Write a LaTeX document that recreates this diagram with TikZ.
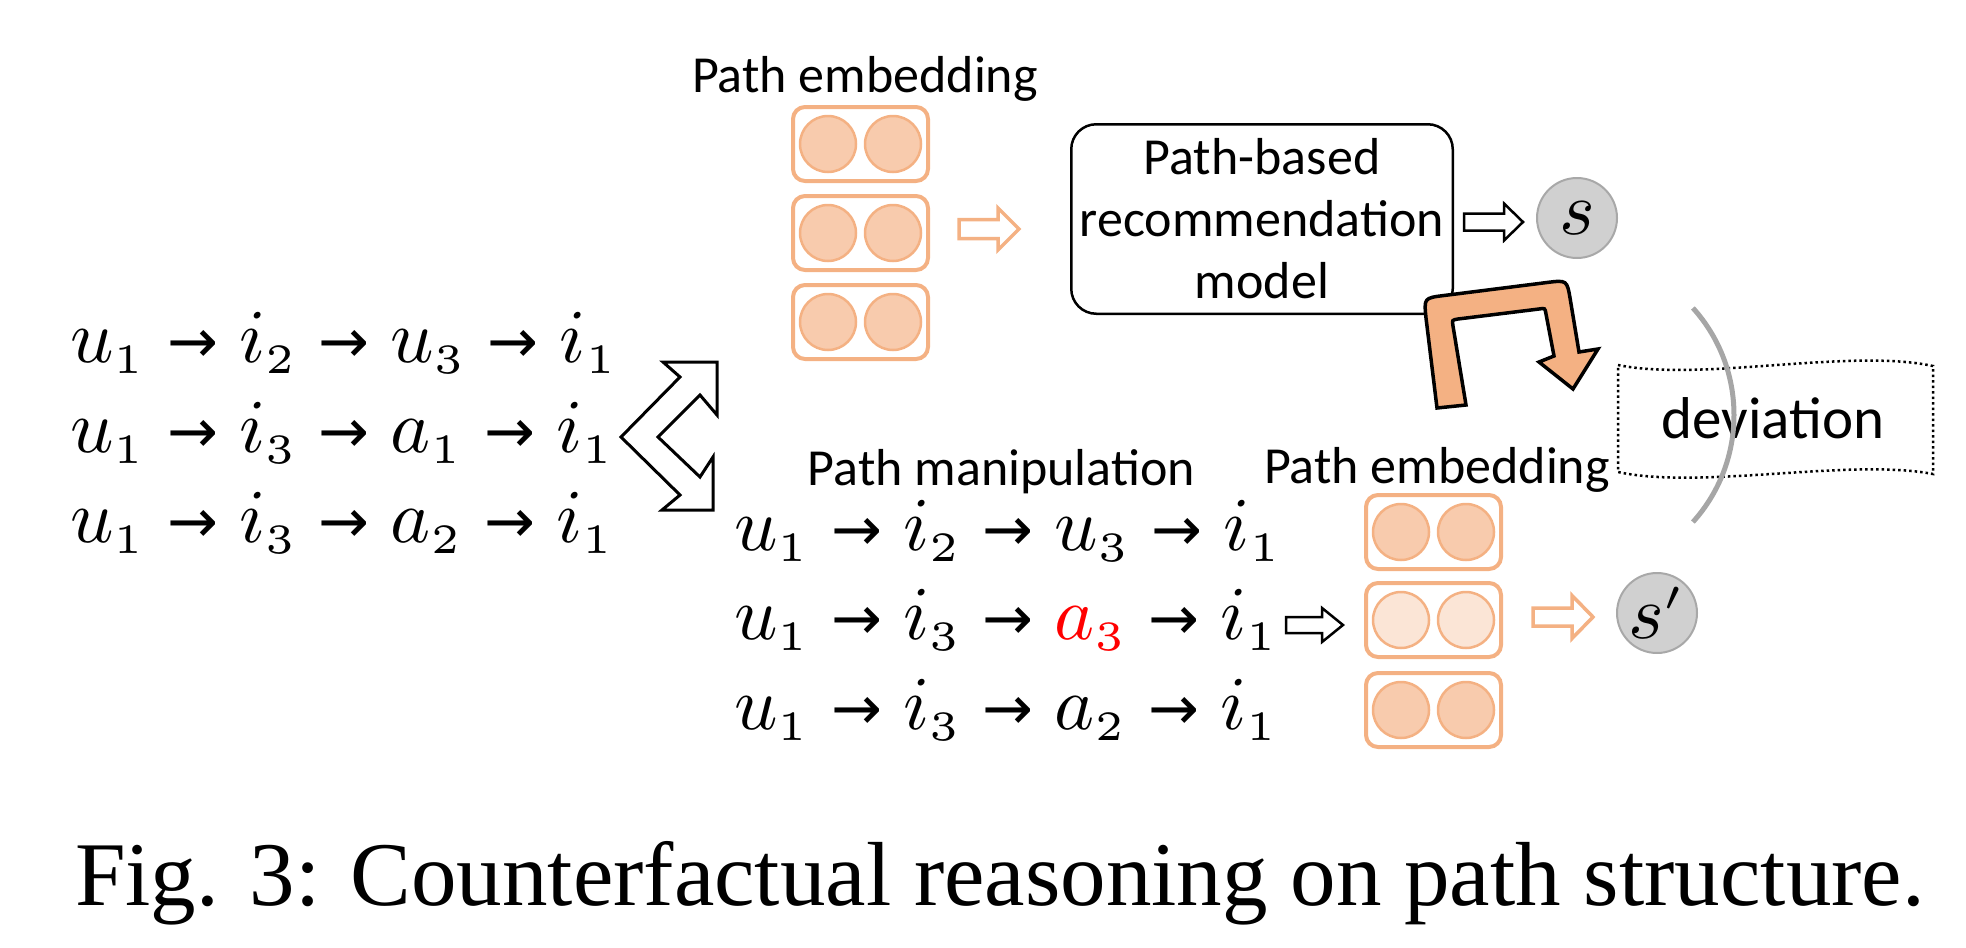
\RequirePackage{fix-cm}
\documentclass[tikz,border=0pt]{standalone}
\usepackage{fontspec}
\usepackage{graphicx}
\usetikzlibrary{calc}
\newfontfamily\calib{Carlito}
\newfontfamily\djv{DejaVu Sans}
\newfontfamily\capfont{Liberation Serif}
\DeclareMathSizes{10}{10}{5.5}{4.5}
\definecolor{orng}{HTML}{F4B183}
\definecolor{orngfill}{HTML}{F8CBAD}
\definecolor{ornglight}{HTML}{FBE5D6}
\definecolor{circgray}{HTML}{D0D0D0}
\definecolor{circedge}{HTML}{A8A8A8}
\definecolor{arcgray}{HTML}{A6A6A6}
\definecolor{uturnfill}{HTML}{F4B183}
\newcommand\ar{\mathrel{\hbox{\djv\fontsize{8}{9}\selectfont →}}}
\newcommand\mrow[1]{\scalebox{7.6}{$#1$}}
% block arrow: style, start coord, end coord, shaft half width, head half width, head length
\newcommand\barrow[6]{%
  \draw[#1] ($(#2)+(0,-#4)$) -- ($(#3)+(-#6,-#4)$) -- ($(#3)+(-#6,-#5)$) -- (#3)
    -- ($(#3)+(-#6,#5)$) -- ($(#3)+(-#6,#4)$) -- ($(#2)+(0,#4)$) -- cycle;}
\begin{document}
\begin{tikzpicture}[x=1pt,y=-1pt,
  lbl/.style={font=\calib\fontsize{52}{62}\selectfont, inner sep=0},
  ebox/.style={draw=orng, line width=4pt, rounded corners=12pt, minimum width=135pt, minimum height=74pt, inner sep=0},
  edot/.style={circle, draw=orng, fill=orngfill, line width=2.5pt, minimum size=56pt, inner sep=0},
  edotlight/.style={edot, fill=ornglight},
  model/.style={draw, line width=2.5pt, rounded corners=25pt, minimum width=381.5pt, minimum height=189.5pt, align=center, inner sep=0, font=\calib\fontsize{52}{62}\selectfont},
  score/.style={circle, fill=circgray, draw=circedge, line width=2pt, minimum size=80pt, inner sep=0},
  prow/.style={inner sep=0, anchor=base west},
  oarrow/.style={draw=orng, fill=white, line width=3.5pt, line join=miter},
  karrow/.style={draw=black, fill=white, line width=2.5pt, line join=miter},
  zig/.style={draw=black, fill=white, line width=3pt, line join=miter},
  uturn/.style={draw=black, fill=uturnfill, line width=3.5pt, line join=miter},
  wavebox/.style={draw=black, line width=2.5pt, dash pattern=on 2.5pt off 3pt},
  grayarc/.style={draw=arcgray, line width=5pt}
]
\useasboundingbox (0,0) rectangle (1966,948);

% ---------- upper path embedding ----------
\node[lbl, anchor=base] (pe1) at (865,92) {Path embedding};
\foreach \n/\y in {1/144, 2/233, 3/322} {
  \node[ebox] (ub\n) at (860.5,\y) {};
  \node[edot] (ub\n a) at (828,\y) {};
  \node[edot] (ub\n b) at (893,\y) {};
}

% ---------- model and score ----------
\node[model] (model) at (1262,219) {Path-based\\recommendation\\model};
\node[score] (s) at (1577,218) {\mrow{s}};

\coordinate (oa1s) at (959,229);
\coordinate (oa1e) at (1019,229);
\barrow{oarrow}{oa1s}{oa1e}{9.5}{21}{21}
\coordinate (ka1s) at (1464,222);
\coordinate (ka1e) at (1523,222);
\barrow{karrow}{ka1s}{ka1e}{8.5}{18.5}{19}

% ---------- U-turn arrow ----------
\draw[uturn] (1437,408) -- (1426,318) .. controls (1424,298) .. (1444,295.5)
  -- (1547,282.5) .. controls (1567,280) .. (1570.3,299.7)
  -- (1579,352) -- (1598,349) -- (1573,389) -- (1539,362) -- (1554,356)
  -- (1546,314) .. controls (1545,308) .. (1539,309)
  -- (1458,319) .. controls (1452,320) .. (1453,326)
  -- (1466,405) -- cycle;

% ---------- left paths ----------
\node[prow] (l1) at (70,362) {\mrow{u_1 \ar i_2 \ar u_3 \ar i_1}};
\node[prow] (l2) at (70,452) {\mrow{u_1 \ar i_3 \ar a_1 \ar i_1}};
\node[prow] (l3) at (70,542) {\mrow{u_1 \ar i_3 \ar a_2 \ar i_1}};

% ---------- zigzag double arrow ----------
\draw[zig] (621,437) -- (680,377) -- (663,362) -- (717,362) -- (717,415) -- (700,395)
  -- (658,437) -- (700,477) -- (713,457) -- (713,510) -- (662,510) -- (680,495) -- cycle;

% ---------- lower part ----------
\node[lbl, anchor=base] (pm) at (1001.5,485) {Path manipulation};
\node[lbl, anchor=base] (pe2) at (1437,483) {Path embedding};
\node[prow] (r1) at (734,550) {\mrow{u_1 \ar i_2 \ar u_3 \ar i_1}};
\node[prow] (r2) at (734,639) {\mrow{u_1 \ar i_3 \ar {\color{red}a_3} \ar i_1}};
\node[prow] (r3) at (734,729) {\mrow{u_1 \ar i_3 \ar a_2 \ar i_1}};

\node[ebox] (lb1) at (1433.5,532) {};
\node[edot] (lb1a) at (1401,532) {};
\node[edot] (lb1b) at (1466,532) {};
\node[ebox] (lb2) at (1433.5,620) {};
\node[edotlight] (lb2a) at (1401,620) {};
\node[edotlight] (lb2b) at (1466,620) {};
\node[ebox] (lb3) at (1433.5,710) {};
\node[edot] (lb3a) at (1401,710) {};
\node[edot] (lb3b) at (1466,710) {};

\coordinate (ka2s) at (1286,625);
\coordinate (ka2e) at (1343,625);
\barrow{karrow}{ka2s}{ka2e}{8}{17}{21}
\coordinate (oa2s) at (1533,617);
\coordinate (oa2e) at (1593,617);
\barrow{oarrow}{oa2s}{oa2e}{9}{21.5}{21}

\node[score] (s2) at (1657,613) {\mrow{s'}};

% ---------- deviation ----------
\draw[wavebox] (1618,365) .. controls (1700,382) and (1850,348) .. (1933,366)
  -- (1933,474) .. controls (1850,458) and (1700,490) .. (1618,472) -- cycle;
\node[lbl, font=\calib\fontsize{59}{70}\selectfont, anchor=base] (dev) at (1773,438) {deviation};
\draw[grayarc] (1574,415) ++(-42:160) arc[start angle=-42, end angle=42, radius=160];

% ---------- caption ----------
\node[anchor=base, inner sep=0, font=\capfont\fontsize{91}{100}\selectfont] (cap) at (1000,905) {Fig. 3: Counterfactual reasoning on path structure.};
\end{tikzpicture}
\end{document}
